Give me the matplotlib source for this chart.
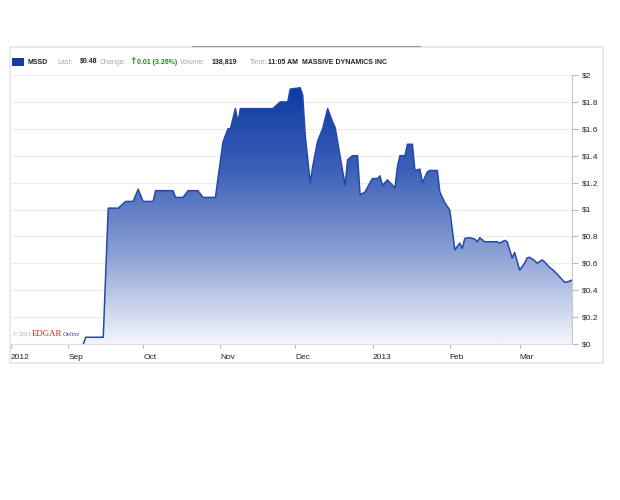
import numpy as np
import pandas as pd
import matplotlib
matplotlib.use('Agg')
import matplotlib.pyplot as plt
import matplotlib.dates as mdates
from matplotlib.colors import LinearSegmentedColormap
from matplotlib.patches import Rectangle

plt.rcParams['font.family'] = ['Liberation Sans', 'DejaVu Sans']

# price readings (date, close)
dates = ['2012-09-07', '2012-09-08', '2012-09-15', '2012-09-17', '2012-09-21', '2012-09-24',
         '2012-09-27', '2012-09-29', '2012-10-01', '2012-10-05', '2012-10-06', '2012-10-13',
         '2012-10-14', '2012-10-17', '2012-10-19', '2012-10-23', '2012-10-25', '2012-10-30',
         '2012-11-02', '2012-11-04', '2012-11-05', '2012-11-07', '2012-11-08', '2012-11-09',
         '2012-11-22', '2012-11-25', '2012-11-28', '2012-11-29', '2012-12-03', '2012-12-04',
         '2012-12-05', '2012-12-07', '2012-12-08', '2012-12-10', '2012-12-12', '2012-12-14',
         '2012-12-16', '2012-12-17', '2012-12-21', '2012-12-22', '2012-12-24', '2012-12-26',
         '2012-12-27', '2012-12-29', '2012-12-31', '2013-01-01', '2013-01-03', '2013-01-04',
         '2013-01-05', '2013-01-07', '2013-01-08', '2013-01-10', '2013-01-11', '2013-01-12',
         '2013-01-14', '2013-01-15', '2013-01-17', '2013-01-18', '2013-01-20', '2013-01-21',
         '2013-01-23', '2013-01-24', '2013-01-27', '2013-01-28', '2013-01-30', '2013-02-01',
         '2013-02-03', '2013-02-05', '2013-02-06', '2013-02-07', '2013-02-09', '2013-02-11',
         '2013-02-12', '2013-02-13', '2013-02-15', '2013-02-20', '2013-02-21', '2013-02-23',
         '2013-02-24', '2013-02-25', '2013-02-26', '2013-02-27', '2013-03-01', '2013-03-03',
         '2013-03-04', '2013-03-05', '2013-03-07', '2013-03-08', '2013-03-10', '2013-03-11',
         '2013-03-13', '2013-03-15', '2013-03-17', '2013-03-19', '2013-03-20', '2013-03-22']
prices = [0.00, 0.05, 0.05, 1.01, 1.01, 1.06,
          1.06, 1.15, 1.06, 1.06, 1.14, 1.14,
          1.09, 1.09, 1.14, 1.14, 1.09, 1.09,
          1.50, 1.60, 1.60, 1.75, 1.65, 1.75,
          1.75, 1.80, 1.80, 1.895, 1.905, 1.85,
          1.55, 1.20, 1.32, 1.51, 1.60, 1.75,
          1.65, 1.61, 1.18, 1.37, 1.40, 1.40,
          1.11, 1.13, 1.20, 1.23, 1.23, 1.25,
          1.18, 1.22, 1.20, 1.16, 1.32, 1.40,
          1.40, 1.485, 1.485, 1.29, 1.30, 1.20,
          1.28, 1.29, 1.29, 1.13, 1.05, 0.995,
          0.70, 0.75, 0.71, 0.785, 0.79, 0.78,
          0.76, 0.79, 0.76, 0.76, 0.75, 0.77,
          0.76, 0.70, 0.64, 0.68, 0.55, 0.60,
          0.64, 0.645, 0.62, 0.60, 0.625, 0.61,
          0.57, 0.54, 0.50, 0.46, 0.46, 0.475]

month_ticks = ['2012-08-09', '2012-09-01', '2012-10-01', '2012-11-01', '2012-12-01',
               '2013-01-01', '2013-02-01', '2013-03-01']
month_labels = ['2012', 'Sep', 'Oct', 'Nov', 'Dec', '2013', 'Feb', 'Mar']
price_ticks = [0, 0.2, 0.4, 0.6, 0.8, 1.0, 1.2, 1.4, 1.6, 1.8, 2.0]
price_labels = ['$0', '$0.2', '$0.4', '$0.6', '$0.8', '$1', '$1.2', '$1.4', '$1.6', '$1.8', '$2']

d = pd.to_datetime(dates)
x = mdates.date2num(d)
xmin = mdates.date2num(pd.Timestamp('2012-08-09'))
xmax = mdates.date2num(pd.Timestamp('2013-03-22'))

fig = plt.figure(figsize=(6.2, 5.0), dpi=100)
fig.patch.set_facecolor('white')

W, H = 620.0, 500.0
def fx(px):
    return px / W
def fy(py):
    return 1 - py / H

# outer frame
frame = Rectangle((fx(10), fy(363)), fx(603) - fx(10), fy(47) - fy(363), transform=fig.transFigure,
                  facecolor='none', edgecolor='#e6e6e6', lw=1.2)
fig.patches.append(frame)
fig.add_artist(plt.Line2D([fx(192), fx(420)], [fy(45.5), fy(45.5)], transform=fig.transFigure,
                          color='#999999', lw=0.8))

ax = fig.add_axes([fx(11), fy(344), fx(572) - fx(11), fy(75) - fy(344)])
ax.set_xlim(xmin, xmax)
ax.set_ylim(0, 2)

# gradient fill under the line
cmap = LinearSegmentedColormap.from_list('g', ['#f4f6fb', '#8ea3d6', '#3c60b8', '#0a36a0'])
grad = np.linspace(0, 1, 256).reshape(-1, 1)
img = ax.imshow(grad, cmap=cmap, aspect='auto', origin='lower',
                extent=[xmin, xmax, 0, 1.95], zorder=1)
poly = ax.fill_between(x, prices, 0, color='none', lw=0)
clip = poly.get_paths()[0]
img.set_clip_path(clip, transform=ax.transData)
ax.plot(x, prices, color='#2449a8', lw=1.1, zorder=3)

ax.set_yticks(price_ticks)
ax.set_yticklabels(price_labels)
ax.yaxis.tick_right()
ax.yaxis.set_label_position('right')
ax.grid(axis='y', color='#ececec', lw=0.8, zorder=0)
ax.set_axisbelow(True)

ax.set_xticks(mdates.date2num(pd.to_datetime(month_ticks)))
ax.set_xticklabels(month_labels, ha='left')
ax.tick_params(axis='x', length=3, color='#bbbbbb', labelsize=6, pad=4, direction='out')
ax.tick_params(axis='y', length=4, color='#bbbbbb', labelsize=6, pad=3, colors='#bbbbbb',
               labelcolor='#222222')
for lab in ax.get_xticklabels():
    lab.set_color('#222222')

for s in ['top', 'left']:
    ax.spines[s].set_visible(False)
ax.spines['right'].set_color('#c8c8c8')
ax.spines['bottom'].set_color('#dddddd')
ax.spines['right'].set_linewidth(0.8)
ax.spines['bottom'].set_linewidth(0.8)

# copyright mark
cy = fy(336)
fig.text(fx(13), cy, '\u00a9 2013', fontsize=4.2, color='#a0a0a0', family='Liberation Serif',
         va='baseline')
fig.text(fx(32), cy, 'EDGAR', fontsize=6.3, color='#cc1f1f', family='Liberation Serif',
         va='baseline')
fig.text(fx(63), cy, 'Online', fontsize=4.6, color='#3a3a8a', family='Liberation Serif',
         style='italic', va='baseline')

# header bar
hy = fy(62)
fig.patches.append(Rectangle((fx(12), fy(66)), fx(12), fy(58) - fy(66), transform=fig.transFigure,
                             facecolor='#1a3aa8', edgecolor='none'))
bold = dict(fontsize=5.0, fontweight='bold', color='#222222', va='center')
grey = dict(fontsize=5.0, color='#a8a8a8', va='center')
fig.text(fx(28), hy, 'MSSD', **bold)
fig.text(fx(57), hy, 'Last:', **grey)
fig.text(fx(80), hy, '$0.48', **bold)
fig.text(fx(100), hy, 'Change:', **grey)
fig.text(fx(129), hy, '\u2191', fontsize=6.5, fontweight='bold', color='#1a8a1a', va='center',
         family='DejaVu Sans')
fig.text(fx(137), hy, '0.01 (3.26%)', fontsize=5.0, fontweight='bold', color='#1a8a1a', va='center')
fig.text(fx(180), hy, 'Volume:', **grey)
fig.text(fx(212), hy, '138,819', **bold)
fig.text(fx(250), hy, 'Time:', **grey)
fig.text(fx(268), hy, '11:05 AM', **bold)
fig.text(fx(302), hy, 'MASSIVE DYNAMICS INC', **bold)

plt.savefig('out.png', dpi=100)
